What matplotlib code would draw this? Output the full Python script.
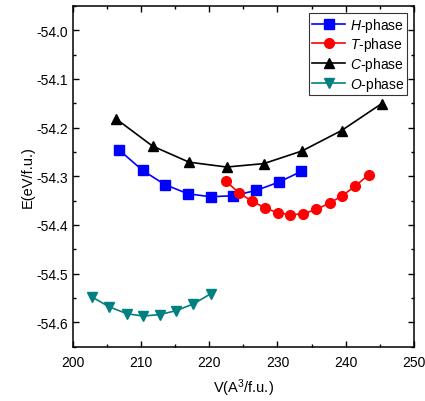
import numpy as np
import matplotlib.pyplot as plt
from matplotlib.ticker import MultipleLocator, FormatStrFormatter

plt.rcParams['font.family'] = ['Liberation Sans', 'DejaVu Sans']
plt.rcParams['mathtext.fontset'] = 'custom'
plt.rcParams['mathtext.rm'] = 'Liberation Sans'
plt.rcParams['mathtext.it'] = 'Liberation Sans:italic'
plt.rcParams['axes.unicode_minus'] = False

# volume (A^3/f.u.) and energy (eV/f.u.) for each phase
v_h = [206.8, 210.25, 213.5, 216.9, 220.2, 223.5, 226.9, 230.2, 233.5]
e_h = [-54.246, -54.288, -54.317, -54.336, -54.342, -54.340, -54.329, -54.312, -54.290]

v_t = [222.45, 224.35, 226.25, 228.2, 230.05, 231.9, 233.8, 235.7, 237.65, 239.5, 241.4, 243.35]
e_t = [-54.310, -54.334, -54.351, -54.365, -54.375, -54.379, -54.377, -54.368,
       -54.355, -54.340, -54.320, -54.297]

v_c = [206.35, 211.7, 217.05, 222.55, 228.0, 233.6, 239.4, 245.25]
e_c = [-54.182, -54.238, -54.271, -54.281, -54.274, -54.248, -54.206, -54.151]

v_o = [202.85, 205.35, 207.9, 210.3, 212.75, 215.15, 217.7, 220.25]
e_o = [-54.548, -54.568, -54.582, -54.587, -54.584, -54.576, -54.562, -54.541]

fig = plt.figure(figsize=(4.25, 4.02), dpi=100)
ax = fig.add_axes([0.171, 0.135, 0.803, 0.848])

ax.plot(v_h, e_h, color='#0000FF', marker='s', ms=6.5, lw=1.2, label='$\\mathit{H}$-phase')
ax.plot(v_t, e_t, color='#FF0000', marker='o', ms=7, lw=1.2, label='$\\mathit{T}$-phase')
ax.plot(v_c, e_c, color='black', marker='^', ms=7.5, lw=1.2, label='$\\mathit{C}$-phase')
ax.plot(v_o, e_o, color='#008080', marker='v', ms=7.5, lw=1.2, label='$\\mathit{O}$-phase')

ax.set_xlim(200, 250)
ax.set_ylim(-54.65, -53.95)
ax.xaxis.set_major_locator(MultipleLocator(10))
ax.xaxis.set_minor_locator(MultipleLocator(5))
ax.yaxis.set_major_locator(MultipleLocator(0.1))
ax.yaxis.set_minor_locator(MultipleLocator(0.05))
ax.yaxis.set_major_formatter(FormatStrFormatter('%.1f'))

ax.tick_params(which='both', direction='in', top=True, right=True, labelsize=10, width=1)
ax.tick_params(which='major', length=4.5)
ax.tick_params(which='minor', length=2.5)
ax.tick_params(axis='x', pad=6)
for s in ax.spines.values():
    s.set_linewidth(1.1)

ax.set_xlabel('V(A$^3$/f.u.)', fontsize=10.5, labelpad=5)
ax.set_ylabel('E(eV/f.u.)', fontsize=10.5, labelpad=1)

leg = ax.legend(loc='upper right', fontsize=10, frameon=True, fancybox=False,
                edgecolor='black', handlelength=2.4, handletextpad=0.3,
                labelspacing=0.12, borderpad=0.2, borderaxespad=0.5)
leg.get_frame().set_linewidth(0.8)

fig.savefig('out.png', dpi=100)
